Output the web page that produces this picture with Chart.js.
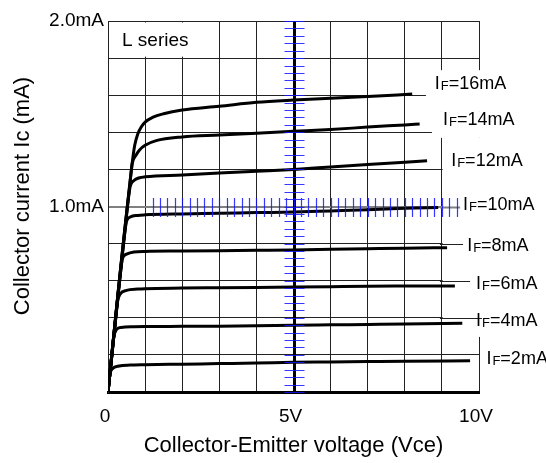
<!DOCTYPE html>
<html>
<head>
<meta charset="utf-8">
<script src="https://cdn.jsdelivr.net/npm/chart.js@4.4.1/dist/chart.umd.min.js"></script>
<style>
  html, body { margin: 0; padding: 0; background: #fff; }
  #wrap { width: 546px; height: 463px; position: relative; }
</style>
</head>
<body>
<div id="wrap"><canvas id="ivChart"></canvas></div>
<script>
// Output characteristics: each curve is a list of [Vce (V), Ic (mA)] points
const forwardCurrents = ['16', '14', '12', '10', '8', '6', '4', '2'];

const curve16 = [[0, 0], [0.65, 1.23], [0.72, 1.33], [0.8, 1.39], [0.9, 1.43], [1, 1.455], [1.2, 1.48], [1.5, 1.5], [2, 1.52], [3, 1.54], [4, 1.562], [5, 1.574], [6, 1.583], [7, 1.593], [8.2, 1.606]];
const curve14 = [[0, 0], [0.6, 1.14], [0.65, 1.23], [0.75, 1.275], [0.85, 1.305], [1, 1.33], [1.3, 1.355], [2, 1.375], [3, 1.385], [4, 1.395], [5, 1.405], [6, 1.415], [7, 1.428], [8, 1.44], [8.4, 1.445]];
const curve12 = [[0, 0], [0.55, 1.045], [0.6, 1.11], [0.7, 1.14], [0.85, 1.155], [1, 1.16], [2, 1.17], [3, 1.18], [4, 1.19], [5, 1.2], [6, 1.213], [7, 1.226], [8, 1.239], [8.6, 1.246]];
const curve10 = [[0, 0], [0.45, 0.855], [0.5, 0.92], [0.6, 0.943], [0.8, 0.952], [1, 0.955], [2, 0.96], [3, 0.963], [4, 0.967], [5, 0.97], [6, 0.976], [7, 0.982], [8, 0.99], [8.9, 0.995]];
const curve8 = [[0, 0], [0.35, 0.665], [0.39, 0.72], [0.5, 0.743], [0.7, 0.755], [1, 0.758], [2, 0.76], [3, 0.762], [4, 0.764], [5, 0.766], [6, 0.769], [7, 0.772], [8, 0.775], [9.14, 0.778]];
const curve6 = [[0, 0], [0.22, 0.42], [0.26, 0.49], [0.32, 0.525], [0.5, 0.548], [0.8, 0.555], [1, 0.557], [2, 0.56], [3, 0.562], [4, 0.564], [5, 0.566], [6, 0.568], [7, 0.57], [8, 0.571], [9.35, 0.572]];
const curve4 = [[0, 0], [0.1, 0.19], [0.15, 0.29], [0.22, 0.335], [0.35, 0.348], [0.7, 0.352], [1, 0.353], [2, 0.354], [3, 0.355], [4, 0.357], [5, 0.36], [6, 0.362], [7, 0.364], [8, 0.366], [9.55, 0.37]];
const curve2 = [[0, 0], [0.05, 0.095], [0.12, 0.125], [0.3, 0.14], [0.6, 0.145], [1, 0.147], [2, 0.15], [3, 0.153], [4, 0.156], [5, 0.16], [6, 0.162], [7, 0.164], [8, 0.166], [9.76, 0.168]];

const curves = [curve16, curve14, curve12, curve10, curve8, curve6, curve4, curve2];

const xTickValues = [0, 5, 10];
const xTickLabels = ['0', '5V', '10V'];
const yTickValues = [1, 2];
const yTickLabels = ['1.0mA', '2.0mA'];
const seriesName = 'L series';
const xTitle = 'Collector-Emitter voltage (Vce)';
const yTitle = 'Collector current Ic (mA)';

const FONT = 'Arial, "Liberation Sans", sans-serif';
Chart.defaults.font.family = FONT;
Chart.defaults.color = '#000';

function near(a, b) { return Math.abs(a - b) < 1e-6; }

// where each IF label starts (Vce) and sits (Ic), same order as forwardCurrents
const labelSpots = [[8.81, 1.66], [9.03, 1.466], [9.25, 1.245], [9.57, 1.008], [9.68, 0.787], [9.92, 0.582], [9.92, 0.383], [10.2, 0.178]];

const overlays = {
  id: 'overlays',
  beforeDatasetsDraw(chart) {
    const ctx = chart.ctx;
    const xs = chart.scales.x, ys = chart.scales.y;
    ctx.save();
    ctx.fillStyle = '#fff';

    // blank out the top-left cells for the series name
    const x0 = xs.getPixelForValue(0), x3 = xs.getPixelForValue(3);
    const rTop = ys.getPixelForValue(2), rBot = ys.getPixelForValue(1.8);
    ctx.fillRect(x0 + 1.5, rTop + 1.5, x3 - x0 - 3, rBot - rTop - 3);

    // stepped white area behind the IF labels
    [[8.57, 1.735, 1.51], [8.73, 1.51, 1.37], [9.02, 1.37, 0.297]].forEach(([v, iTop, iBot]) => {
      const left = xs.getPixelForValue(v);
      const top = ys.getPixelForValue(iTop), bot = ys.getPixelForValue(iBot);
      ctx.fillRect(left, top, chart.width - left, bot - top);
    });

    // grid rows that run out as leaders to their labels
    [[1.0, 9.49], [0.8, 9.57], [0.6, 9.76], [0.4, 10.08]].forEach(([i, vEnd]) => {
      const py = Math.round(ys.getPixelForValue(i)) + 0.5;
      ctx.strokeStyle = near(i, 1) ? '#808080' : '#222';
      ctx.lineWidth = near(i, 1) ? 2 : 1;
      ctx.beginPath();
      ctx.moveTo(xs.getPixelForValue(9) - 2, py);
      ctx.lineTo(xs.getPixelForValue(vEnd), py);
      ctx.stroke();
    });

    ctx.fillStyle = '#000';
    ctx.font = '19px ' + FONT;
    ctx.textBaseline = 'middle';
    ctx.fillText(seriesName, x0 + 14, (rTop + rBot) / 2 + 1);
    ctx.restore();
  },
  afterDatasetsDraw(chart) {
    const ctx = chart.ctx;
    const xs = chart.scales.x, ys = chart.scales.y;
    ctx.save();

    // measuring crosshair: thick 5V line with blue ticks
    const cx = Math.round(xs.getPixelForValue(5)) + 0.5;
    ctx.strokeStyle = '#000';
    ctx.lineWidth = 3;
    ctx.beginPath();
    ctx.moveTo(cx, ys.getPixelForValue(2));
    ctx.lineTo(cx, ys.getPixelForValue(0));
    ctx.stroke();

    ctx.strokeStyle = 'rgba(20, 20, 255, 0.85)';
    ctx.lineWidth = 1.2;
    ctx.beginPath();
    for (let k = 0; k <= 50; k++) {
      const py = Math.round(ys.getPixelForValue(k * 0.04)) + 0.5;
      ctx.moveTo(cx - 10, py);
      ctx.lineTo(cx + 10, py);
    }
    const cy = Math.round(ys.getPixelForValue(1));
    for (let k = 0; k <= 41; k++) {
      const px = Math.round(xs.getPixelForValue(1.2 + k * 0.2)) + 0.5;
      ctx.moveTo(px, cy - 9);
      ctx.lineTo(px, cy + 10);
    }
    ctx.stroke();

    // IF labels with small-cap F
    ctx.fillStyle = '#000';
    ctx.textBaseline = 'middle';
    forwardCurrents.forEach((val, k) => {
      let px = xs.getPixelForValue(labelSpots[k][0]);
      const py = ys.getPixelForValue(labelSpots[k][1]);
      ctx.font = '18px ' + FONT;
      ctx.fillText('I', px, py);
      px += ctx.measureText('I').width + 1;
      ctx.font = '13px ' + FONT;
      ctx.fillText('F', px, py + 2);
      px += ctx.measureText('F').width;
      ctx.font = '18px ' + FONT;
      ctx.fillText('=' + val + 'mA', px, py);
    });

    // vertical axis title
    ctx.font = '22px ' + FONT;
    ctx.textAlign = 'center';
    ctx.translate(23, 196);
    ctx.rotate(-Math.PI / 2);
    ctx.fillText(yTitle, 0, 0);
    ctx.restore();
  }
};

new Chart(document.getElementById('ivChart'), {
  type: 'line',
  data: {
    datasets: curves.map((pts, k) => ({
      label: 'IF=' + forwardCurrents[k] + 'mA',
      data: pts.map(p => ({ x: p[0], y: p[1] })),
      borderColor: '#000',
      borderWidth: 3,
      pointRadius: 0,
      cubicInterpolationMode: 'monotone',
      fill: false
    }))
  },
  options: {
    responsive: true,
    maintainAspectRatio: false,
    animation: false,
    events: [],
    layout: { padding: { left: 0, top: 21, right: 67, bottom: 0 } },
    plugins: { legend: { display: false }, tooltip: { enabled: false } },
    scales: {
      x: {
        type: 'linear',
        min: 0,
        max: 10,
        afterFit(scale) { scale.height = 71; },
        border: { color: '#000', width: 3 },
        grid: { color: '#222', lineWidth: 1, drawTicks: false },
        ticks: {
          stepSize: 1,
          autoSkip: false,
          maxRotation: 0,
          padding: 13,
          labelOffset: -3,
          font: { size: 19 },
          callback(v) {
            const i = xTickValues.findIndex(t => near(t, v));
            return i < 0 ? '' : xTickLabels[i];
          }
        },
        title: {
          display: true,
          text: xTitle,
          font: { size: 22 },
          padding: { top: 0, bottom: 4 }
        }
      },
      y: {
        type: 'linear',
        min: 0,
        max: 2,
        afterFit(scale) { scale.width = 108; },
        border: { color: '#222', width: 1 },
        grid: {
          color: c => (c.tick && near(c.tick.value, 1)) ? '#808080' : '#222',
          lineWidth: c => (c.tick && near(c.tick.value, 1)) ? 2 : 1,
          drawTicks: false
        },
        ticks: {
          stepSize: 0.2,
          autoSkip: false,
          padding: 4,
          font: { size: 19 },
          callback(v) {
            const i = yTickValues.findIndex(t => near(t, v));
            return i < 0 ? '' : yTickLabels[i];
          }
        },
        title: { display: false }
      }
    }
  },
  plugins: [overlays]
});
</script>
</body>
</html>
